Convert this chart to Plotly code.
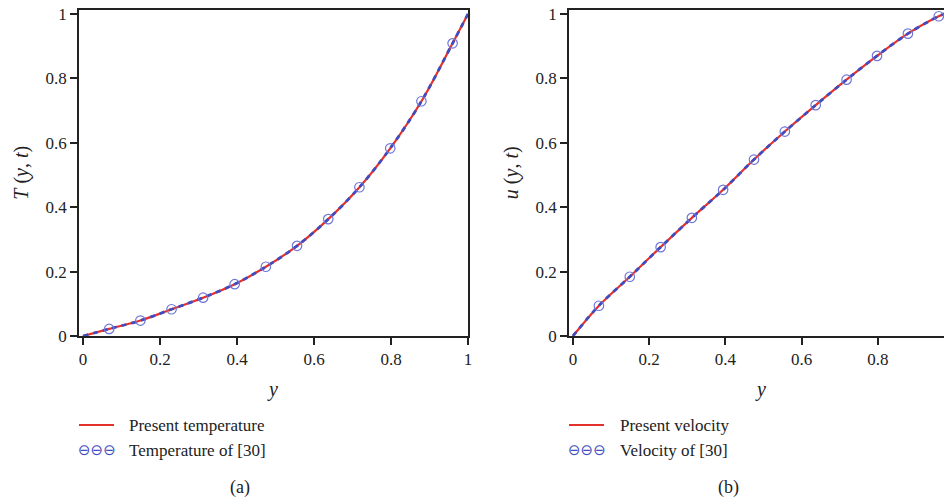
import plotly.graph_objects as go

# ---- data ----
ref_y = [0.068, 0.149, 0.230, 0.312, 0.394, 0.475, 0.556, 0.637, 0.718, 0.798, 0.879, 0.960]
temp_ref = [0.022, 0.048, 0.083, 0.119, 0.161, 0.215, 0.280, 0.363, 0.462, 0.583, 0.729, 0.909]
temp_y = [0.0] + ref_y + [1.0]
temp_present = [0.0] + temp_ref + [1.0]

vel_ref = [0.094, 0.184, 0.276, 0.367, 0.454, 0.548, 0.635, 0.717, 0.796, 0.870, 0.939, 0.993]
vel_y = [0.0] + ref_y + [1.0]
vel_present = [0.0] + vel_ref + [1.012]

x_ticks = [0, 0.2, 0.4, 0.6, 0.8, 1]
x_ticktext = ["0", "0.2", "0.4", "0.6", "0.8", "1"]
y_ticks = [0, 0.2, 0.4, 0.6, 0.8, 1]
y_ticktext = ["0", "0.2", "0.4", "0.6", "0.8", "1"]

RED = "#e4312b"
BLUE = "#3f4cc0"
CIRC = "#6f76d8"
AX = "#222222"
SERIF = "Liberation Serif"
W, H = 952, 500
OFF = 8  # page body margin offset

fig = go.Figure()

panels = [
    ("x", "y", temp_y, temp_present, temp_ref, "Present temperature", "Temperature of [30]"),
    ("x2", "y2", vel_y, vel_present, vel_ref, "Present velocity", "Velocity of [30]"),
]
for xa, ya, xs, ys, refv, n1, n2 in panels:
    fig.add_trace(go.Scatter(x=xs, y=ys, xaxis=xa, yaxis=ya, mode="lines", name=n1,
                             line=dict(color=RED, width=2.2, shape="spline"), showlegend=False))
    fig.add_trace(go.Scatter(x=xs, y=ys, xaxis=xa, yaxis=ya, mode="lines", name=n2,
                             line=dict(color=BLUE, width=2.8, dash="5px,5px", shape="spline"),
                             showlegend=False))
    fig.add_trace(go.Scatter(x=ref_y, y=refv, xaxis=xa, yaxis=ya, mode="markers", name=n2,
                             marker=dict(symbol="circle-open", size=9.5, color=CIRC,
                                         line=dict(width=1.2, color=CIRC)),
                             showlegend=False))

def px_x(p):
    return (p - OFF) / W

def px_y(p):
    return 1 - (p - OFF) / H

ydom = [px_y(336), px_y(9.5)]
common_axis = dict(showline=True, linecolor=AX, linewidth=1.5, mirror=True, ticks="outside",
                   ticklen=7, tickwidth=1.5, tickcolor=AX, showgrid=False, zeroline=False,
                   automargin=False, ticklabeloverflow="allow",
                   tickfont=dict(family=SERIF, size=17, color="#222"))
tfont = dict(family=SERIF, size=20, color="#222")

fig.update_layout(
    width=W, height=H, margin=dict(l=0, r=0, t=0, b=0, autoexpand=False),
    paper_bgcolor="white", plot_bgcolor="white", showlegend=False,
    xaxis=dict(domain=[px_x(79), px_x(468)], range=[-0.0104, 1.0], anchor="y",
               tickvals=x_ticks, ticktext=x_ticktext,
               title=dict(text="<i>y</i>", font=tfont, standoff=14),
               **common_axis),
    yaxis=dict(domain=ydom, range=[0, 1.014], anchor="x",
               tickvals=y_ticks, ticktext=y_ticktext,
               title=dict(text="<i>T</i> (<i>y</i>, <i>t</i>)", font=tfont, standoff=12),
               **common_axis),
    xaxis2=dict(domain=[px_x(569), px_x(954)], range=[-0.0105, 1.0], anchor="y2",
                tickvals=x_ticks, ticktext=x_ticktext,
                title=dict(text="<i>y</i>", font=tfont, standoff=14),
                **common_axis),
    yaxis2=dict(domain=ydom, range=[0, 1.014], anchor="x2",
                tickvals=y_ticks, ticktext=y_ticktext,
                title=dict(text="<i>u</i> (<i>y</i>, <i>t</i>)", font=tfont, standoff=12),
                **common_axis),
)

# legends drawn as annotations / shapes under each panel
legends = [
    (79, 114, 127, "Present temperature", "Temperature of [30]", 240, "(a)"),
    (569, 604, 618, "Present velocity", "Velocity of [30]", 728, "(b)"),
]
for x0, x1, xt, t1, t2, xc, lab in legends:
    fig.add_shape(type="line", xref="paper", yref="paper", x0=px_x(x0), x1=px_x(x1),
                  y0=px_y(425), y1=px_y(425), line=dict(color=RED, width=2.2))
    fig.add_annotation(xref="paper", yref="paper", x=px_x((x0 + x1) / 2), y=px_y(450),
                       text="⊖⊖⊖", showarrow=False, xanchor="center", yanchor="middle",
                       font=dict(family="DejaVu Sans", size=15, color=BLUE))
    fig.add_annotation(xref="paper", yref="paper", x=px_x(xt), y=px_y(425), text=t1,
                       showarrow=False, xanchor="left", yanchor="middle",
                       font=dict(family=SERIF, size=17, color="#222"))
    fig.add_annotation(xref="paper", yref="paper", x=px_x(xt), y=px_y(450), text=t2,
                       showarrow=False, xanchor="left", yanchor="middle",
                       font=dict(family=SERIF, size=17, color="#222"))
    fig.add_annotation(xref="paper", yref="paper", x=px_x(xc), y=px_y(487), text=lab,
                       showarrow=False, xanchor="center", yanchor="middle",
                       font=dict(family=SERIF, size=18, color="#222"))

fig.write_html("out.html")
